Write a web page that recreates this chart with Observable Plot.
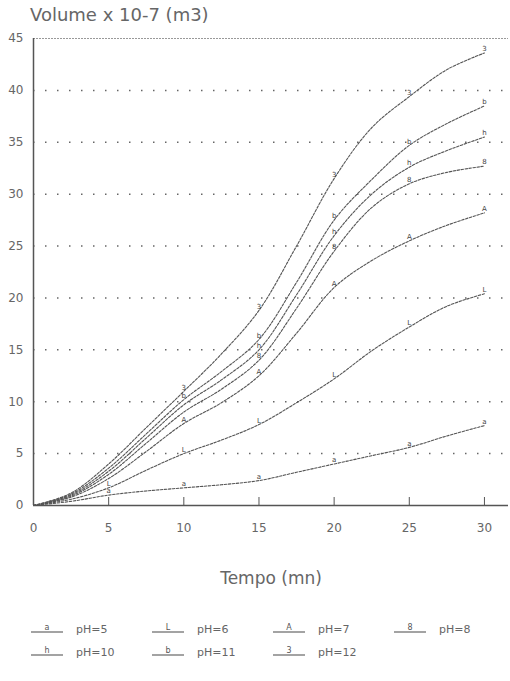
<!DOCTYPE html>
<html><head><meta charset="utf-8">
<script src="https://cdn.jsdelivr.net/npm/d3@7"></script>
<script src="https://cdn.jsdelivr.net/npm/@observablehq/plot@0.6"></script>
<style>
body{margin:0;background:#fff;font-family:"DejaVu Sans",sans-serif;color:#666;}
#wrap{width:510px;height:681px;position:relative;overflow:hidden;}
#title{position:absolute;left:30px;top:4px;font-size:18px;color:#666;white-space:nowrap;}
#chart{position:absolute;left:0;top:30px;}
#legend{position:absolute;left:30px;top:622px;display:grid;grid-template-columns:repeat(4,121px);row-gap:9px;font-size:11px;color:#666;}
.item{display:flex;align-items:center;height:14px;}
.item svg{margin-right:12px;}
</style></head><body>
<div id="wrap">
  <div id="title"></div>
  <div id="chart"></div>
  <div id="legend"></div>
</div>
<script>
const titleText = "Volume x 10-7 (m3)";
const xLabel = "Tempo (mn)";
const times = [0, 2.5, 5, 7.5, 10, 12.5, 15, 17.5, 20, 22.5, 25, 27.5, 30];
const seriesNames = ["pH=5", "pH=6", "pH=7", "pH=8", "pH=10", "pH=11", "pH=12"];
const seriesSymbols = ["a", "L", "A", "8", "h", "b", "3"];
const ph5  = [0, 0.4, 1.0, 1.4, 1.7, 2.0, 2.4, 3.2, 4.0, 4.8, 5.6, 6.7, 7.7];
const ph6  = [0, 0.6, 1.7, 3.4, 5.0, 6.3, 7.8, 9.9, 12.2, 14.9, 17.2, 19.2, 20.4];
const ph7  = [0, 0.8, 2.6, 5.2, 7.9, 9.9, 12.5, 16.6, 21.0, 23.6, 25.5, 27.0, 28.2];
const ph8  = [0, 0.9, 3.0, 6.0, 9.0, 11.2, 14.0, 19.0, 24.5, 28.7, 31.0, 32.1, 32.7];
const ph10 = [0, 1.0, 3.3, 6.5, 9.7, 12.1, 15.0, 20.3, 26.0, 30.0, 32.6, 34.2, 35.5];
const ph11 = [0, 1.1, 3.6, 6.9, 10.2, 12.9, 16.0, 21.5, 27.5, 31.4, 34.7, 36.8, 38.5];
const ph12 = [0, 1.2, 4.0, 7.5, 11.0, 14.6, 18.8, 25.0, 31.5, 36.4, 39.4, 42.0, 43.6];
const xTicks = [0, 5, 10, 15, 20, 25, 30];
const yTicks = [0, 5, 10, 15, 20, 25, 30, 35, 40, 45];
const gridValues = [5, 10, 15, 20, 25, 30, 35, 40];
const markerTimes = [15, 20, 25, 30];

const allSeries = [ph5, ph6, ph7, ph8, ph10, ph11, ph12];
const rows = [];
const markers = [];
allSeries.forEach((vals, i) => {
  vals.forEach((v, j) => {
    rows.push({s: seriesNames[i], t: times[j], v});
    const t = times[j];
    if (markerTimes.includes(t) || (t === 5 && i < 2) || (t === 10 && [0, 1, 2, 5, 6].includes(i))) {
      markers.push({s: seriesNames[i], t, v, sym: seriesSymbols[i]});
    }
  });
});

document.getElementById("title").textContent = titleText;

const chart = Plot.plot({
  width: 510, height: 570,
  marginLeft: 33, marginRight: 2, marginTop: 8, marginBottom: 95,
  x: {domain: [0, 31.6]},
  y: {domain: [0, 45]},
  style: {fontFamily: "DejaVu Sans", fontSize: "12px", color: "#666", background: "transparent"},
  marks: [
    Plot.ruleY(gridValues, {stroke: "#666", strokeDasharray: "1.5,10.5", strokeWidth: 1.5}),
    Plot.ruleY([45], {stroke: "#999", strokeDasharray: "2,1"}),
    Plot.axisY({ticks: yTicks, tickSize: 0, tickPadding: 10, label: null}),
    Plot.axisX({ticks: xTicks, tickSize: 0, tickPadding: 18, label: null}),
    Plot.tickX(xTicks.slice(1), {x: d => d, insetTop: 459, stroke: "#555"}),
    Plot.ruleX([0], {stroke: "#555", strokeWidth: 1.5}),
    Plot.ruleY([0], {stroke: "#555", strokeWidth: 1.5}),
    Plot.line(rows, {x: "t", y: "v", z: "s", stroke: "#555", strokeWidth: 1.1, strokeDasharray: "2.5,1.5", curve: "catmull-rom"}),
    Plot.text(markers, {x: "t", y: "v", text: "sym", fontSize: 7, dy: -4, fill: "#444"}),
    Plot.text([xLabel], {text: d => d, frameAnchor: "bottom", dy: 78, fontSize: 17, fill: "#666"})
  ]
});
document.getElementById("chart").appendChild(chart);

const legend = document.getElementById("legend");
seriesNames.forEach((name, i) => {
  const item = document.createElement("div");
  item.className = "item";
  item.innerHTML = `<svg width="34" height="14"><line x1="1" x2="33" y1="10" y2="10" stroke="#666" stroke-width="1.2"/><text x="17" y="8" font-size="8" text-anchor="middle" fill="#555">${seriesSymbols[i]}</text></svg><span>${name}</span>`;
  legend.appendChild(item);
});
</script>
</body></html>
